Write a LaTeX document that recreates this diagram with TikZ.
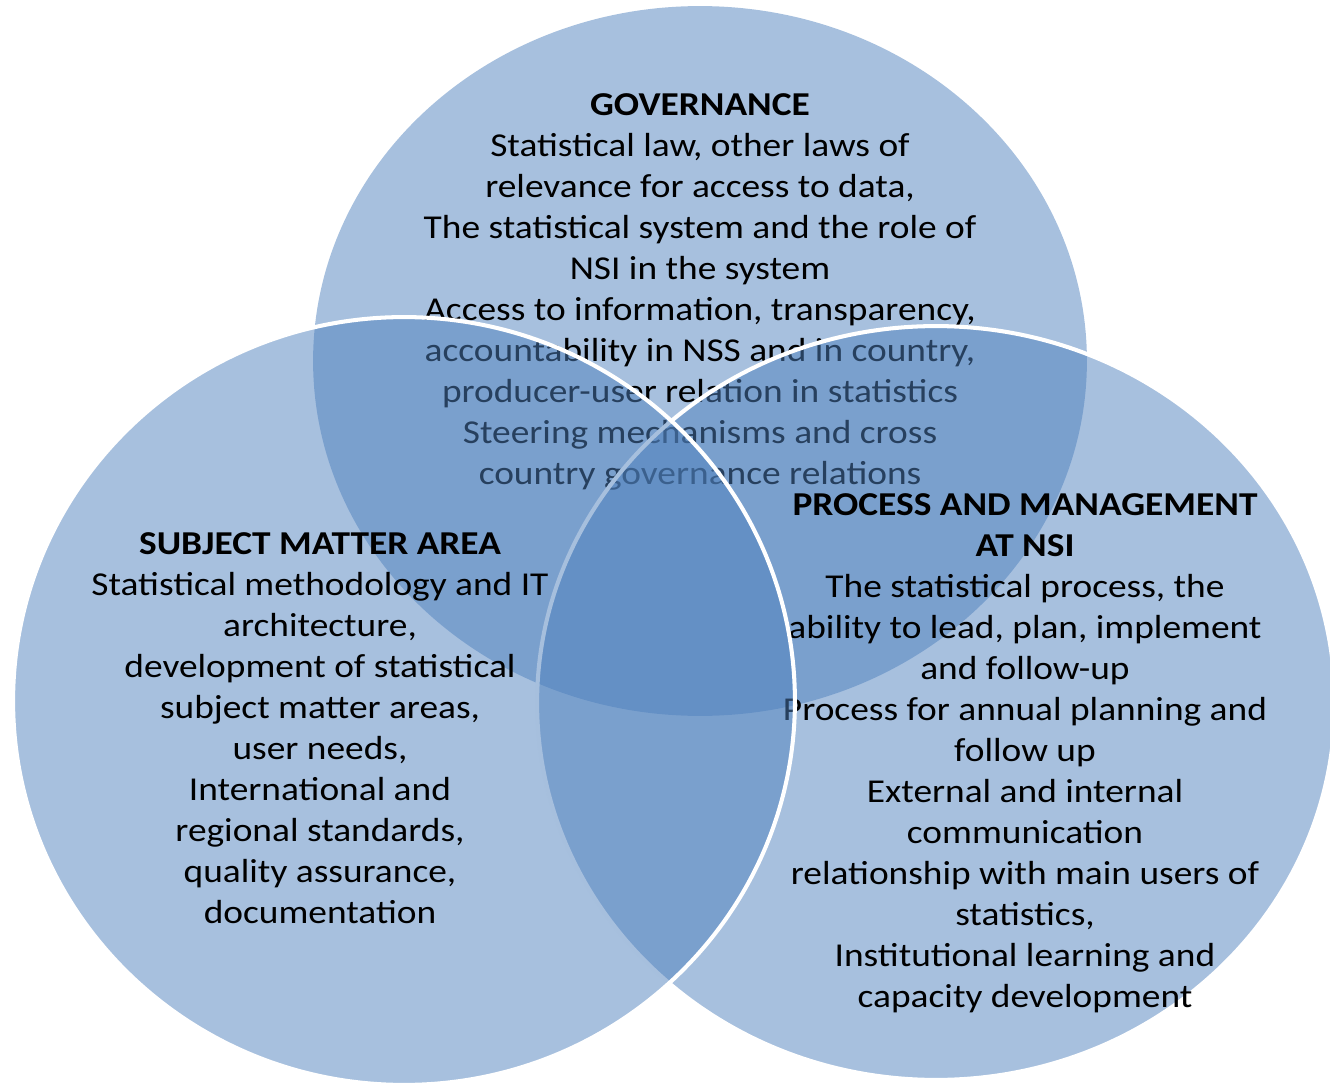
\documentclass[tikz,border=0pt]{standalone}
\usepackage{fontspec}
\setmainfont{Carlito}[FakeStretch=1.12]
\definecolor{accent}{HTML}{4F81BD}
\begin{document}
\begin{tikzpicture}[x=0.02cm,y=-0.02cm,
  venn/.style={fill=accent, fill opacity=0.5},
  vennedge/.style={venn, draw=white, line width=2.3pt, draw opacity=1},
  txt/.style={align=center, inner sep=0pt, anchor=north, text=black,
    font=\fontsize{19}{23.35}\selectfont}]
\useasboundingbox (0,0) rectangle (1330,1085);
\clip (0,0) rectangle (1330,1085);
% Governance circle
\path[venn] (700,361) ellipse [x radius=7.74cm, y radius=7.10cm];
\node[txt] (gov) at (700,93) {\textbf{GOVERNANCE}\\
Statistical law, other laws of\\
relevance for access to data,\\
The statistical system and the role of\\
NSI in the system\\
Access to information, transparency,\\
accountability in NSS and in country,\\
producer-user relation in statistics\\
Steering mechanisms and cross\\
country governance relations};
% Process circle
\path[vennedge] (936,703) ellipse [x radius=7.98cm, y radius=7.54cm];
\node[txt] (proc) at (1025,493) {\textbf{PROCESS AND MANAGEMENT}\\
\textbf{AT NSI}\\
The statistical process, the\\
ability to lead, plan, implement\\
and follow-up\\
Process for annual planning and\\
follow up\\
External and internal\\
communication\\
relationship with main users of\\
statistics,\\
Institutional learning and\\
capacity development};
% Subject matter circle
\path[vennedge] (404,701) ellipse [x radius=7.82cm, y radius=7.68cm];
\node[txt] (subj) at (320,532) {\textbf{SUBJECT MATTER AREA}\\
Statistical methodology and IT\\
architecture,\\
development of statistical\\
subject matter areas,\\
user needs,\\
International and\\
regional standards,\\
quality assurance,\\
documentation};
\end{tikzpicture}
\end{document}
